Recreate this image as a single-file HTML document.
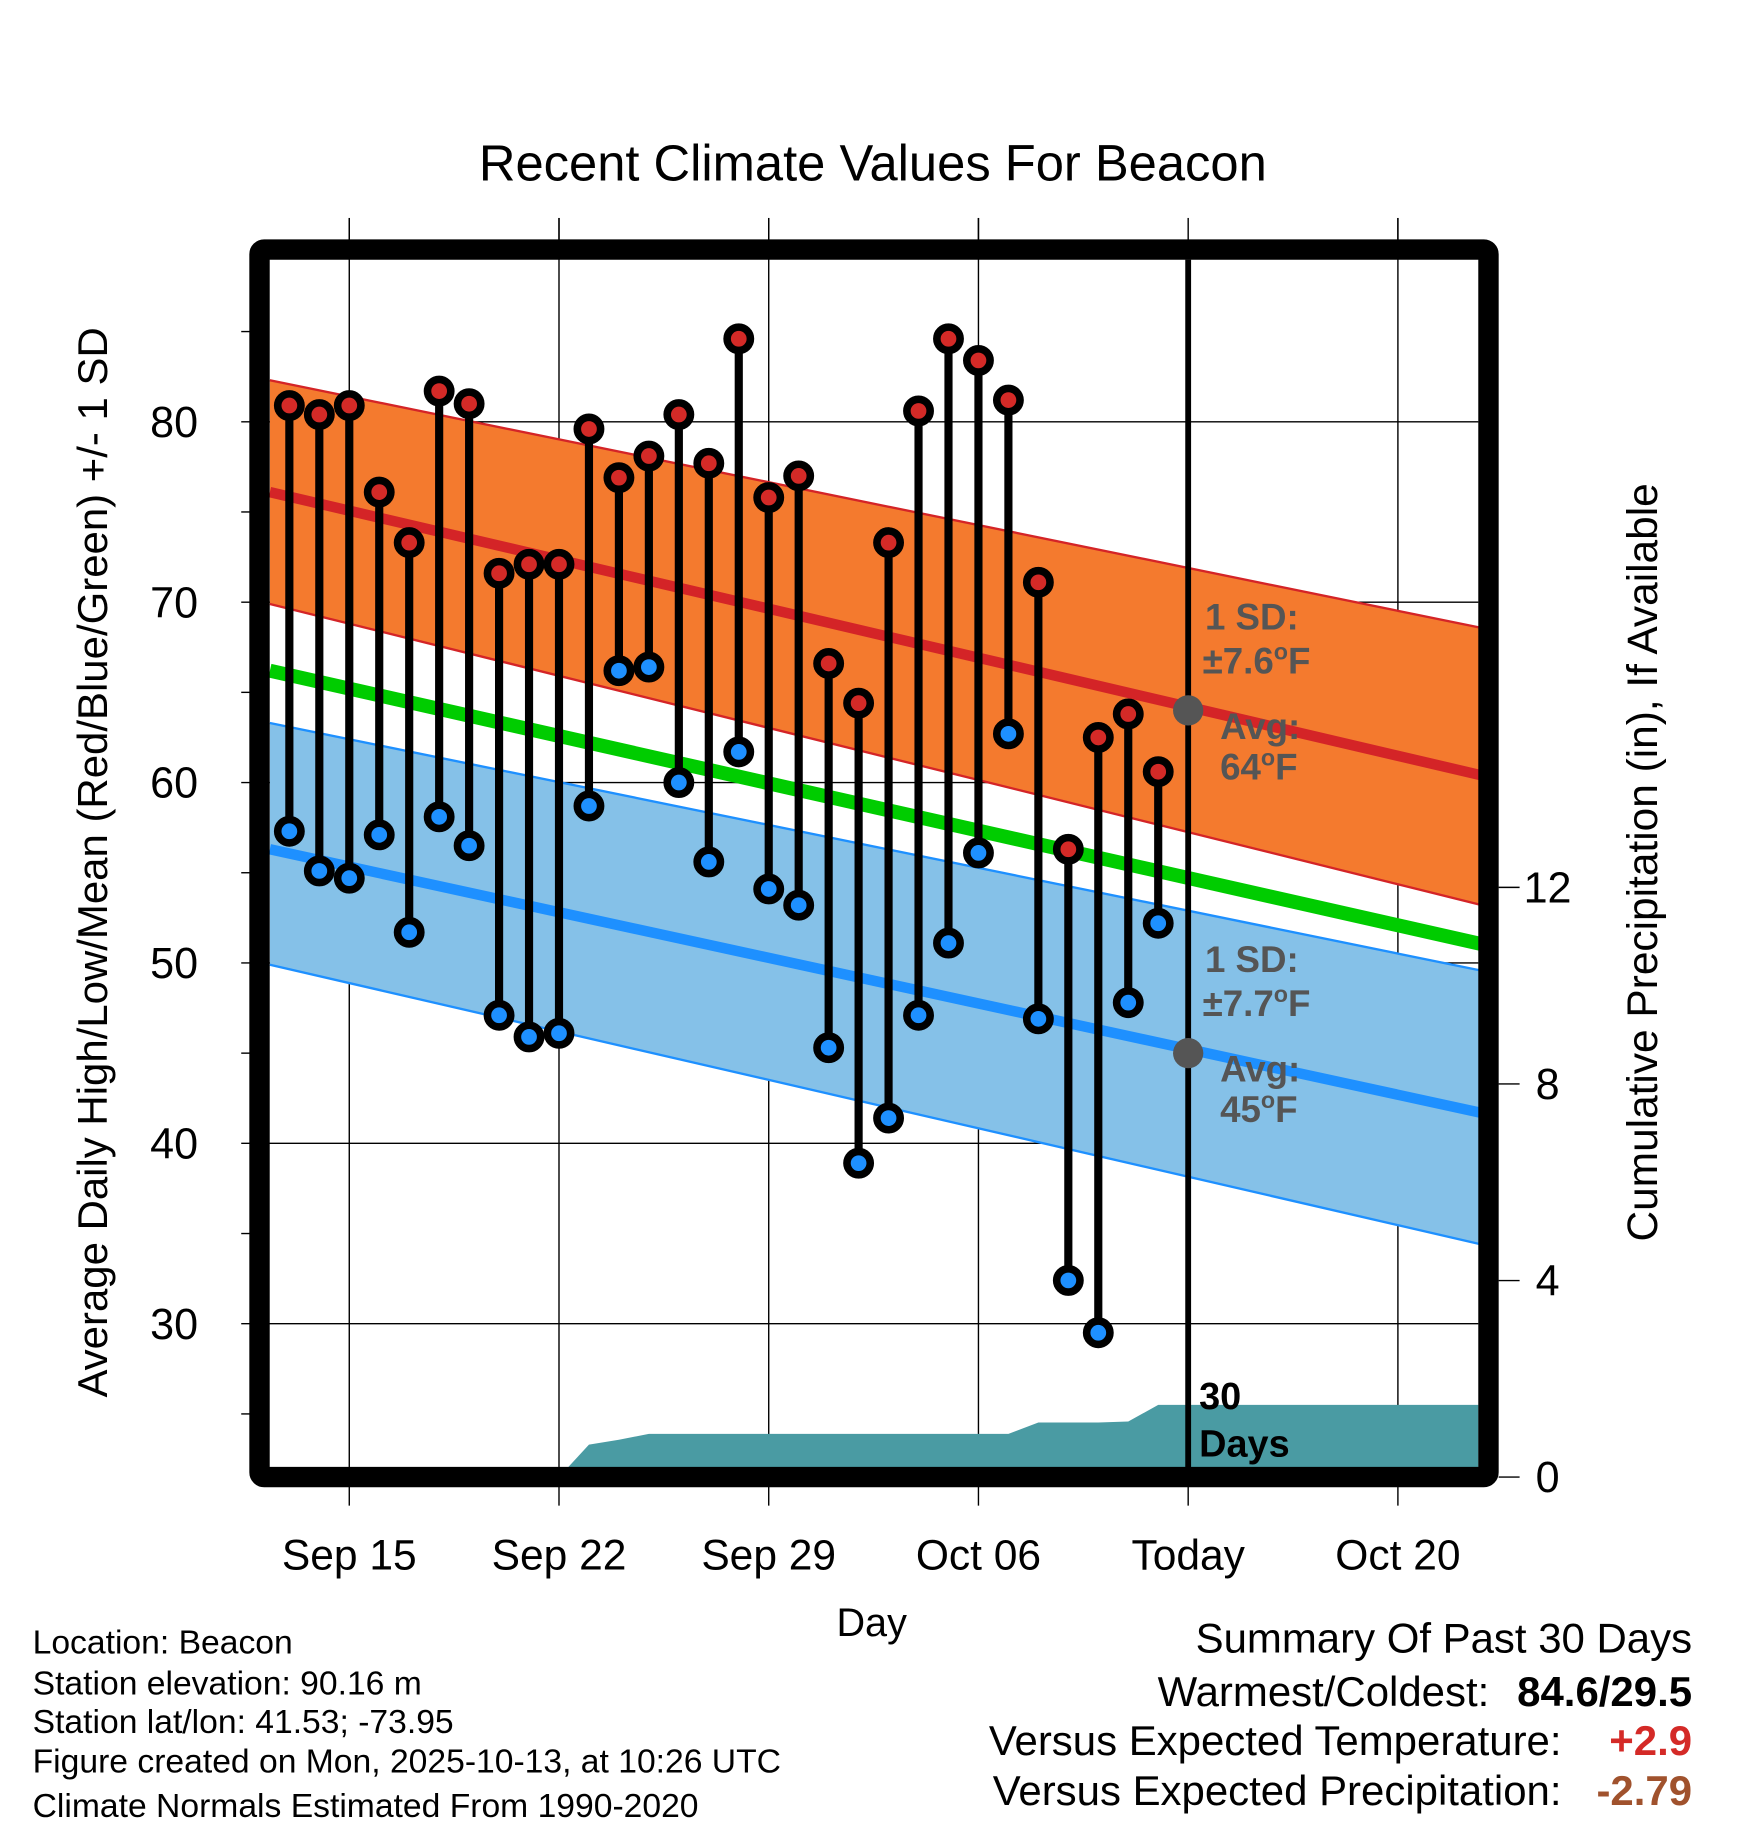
<!DOCTYPE html>
<html><head><meta charset="utf-8"><style>
html,body{margin:0;padding:0;background:#fff;}
svg{display:block;font-family:"Liberation Sans",Arial,sans-serif;}
</style></head><body>
<svg id="chart" width="1748" height="1828" viewBox="0 0 1500 1568.6" xmlns="http://www.w3.org/2000/svg">
<rect x="0" y="0" width="1500" height="1568.6" fill="#fff"/>
<text x="749" y="155" font-size="43.5" text-anchor="middle">Recent Climate Values For Beacon</text>
<g id="grid"></g>
<g id="bands"></g>
<g id="precip"></g>
<g id="marks"></g>
<g id="annot"></g>
<rect x="222.7" y="214.1" width="1054.6" height="1053.4" fill="none" stroke="#000" stroke-width="17.5" rx="4"/>
<g id="axes"></g>
<text x="748" y="1404" font-size="34" text-anchor="middle">Day</text>
<text transform="translate(92,740) rotate(-90)" font-size="36" text-anchor="middle">Average Daily High/Low/Mean (Red/Blue/Green) +/- 1 SD</text>
<text transform="translate(1422,740) rotate(-90)" font-size="36.4" text-anchor="middle">Cumulative Precipitation (in), If Available</text>
<g font-size="28.9">
<text x="28" y="1419">Location: Beacon</text>
<text x="28" y="1454">Station elevation: 90.16 m</text>
<text x="28" y="1487">Station lat/lon: 41.53; -73.95</text>
<text x="28" y="1521">Figure created on Mon, 2025-10-13, at 10:26 UTC</text>
<text x="28" y="1559">Climate Normals Estimated From 1990-2020</text>
</g>
<g font-size="36">
<text x="1452" y="1418" text-anchor="end">Summary Of Past 30 Days</text>
<text x="1278" y="1464" text-anchor="end">Warmest/Coldest:</text>
<text x="1452" y="1464" text-anchor="end" font-weight="bold">84.6/29.5</text>
<text x="1340" y="1506" text-anchor="end">Versus Expected Temperature:</text>
<text x="1452" y="1506" text-anchor="end" font-weight="bold" fill="#d42a27">+2.9</text>
<text x="1340" y="1549" text-anchor="end">Versus Expected Precipitation:</text>
<text x="1452" y="1549" text-anchor="end" font-weight="bold" fill="#a0522d">-2.79</text>
</g>
</svg>
<script>
const highs=[80.9,80.4,80.9,76.1,73.3,81.7,81.0,71.6,72.1,72.1,79.6,76.9,78.1,80.4,77.7,84.6,75.8,77.0,66.6,64.4,73.3,80.6,84.6,83.4,81.2,71.1,56.3,62.5,63.8,60.6];
const lows=[57.3,55.1,54.7,57.1,51.7,58.1,56.5,47.1,45.9,46.1,58.7,66.2,66.4,60.0,55.6,61.7,54.1,53.2,45.3,38.9,41.4,47.1,51.1,56.1,62.7,46.9,32.4,29.5,47.8,52.2];
const precipCum=[0,0,0,0,0,0,0,0,0,0,0.66,0.76,0.88,0.88,0.88,0.88,0.88,0.88,0.88,0.88,0.88,0.88,0.88,0.88,0.88,1.11,1.11,1.11,1.13,1.47];
const normDays=[-0.65,40.3];
const normHigh=[76.1,60.2];
const normHighTop=[82.3,68.4];
const normHighBot=[69.9,53.0];
const normLow=[56.3,41.5];
const normLowTop=[63.3,49.4];
const normLowBot=[49.9,34.2];
const todayHigh=64, todayLow=45;
const yTicks=[30,40,50,60,70,80];
const yMinor=[25,35,45,55,65,75,85];
const pTicks=[0,4,8,12];
const xTickDays=[2,9,16,23,30,37];
const xTickLabels=["Sep 15","Sep 22","Sep 29","Oct 06","Today","Oct 20"];

const NS="http://www.w3.org/2000/svg";
const L=231.4,R=1268.6,T=222.8,B=1258.8;
const x=d=>248.3+d*25.71;
const y=v=>361.9+(80-v)*15.48;
const py=p=>1267.5-p*42.17;
function mk(parent,tag,attrs){const e=document.createElementNS(NS,tag);for(const k in attrs)e.setAttribute(k,attrs[k]);document.getElementById(parent).appendChild(e);return e;}

yTicks.forEach(v=>{
  const g=mk('grid','line',{x1:207,x2:R,y1:y(v),y2:y(v),stroke:'#000','stroke-width':1.2});
  
  
  const t=mk('axes','text',{x:170,y:y(v)+13,'font-size':37,'text-anchor':'end'});
  t.textContent=v;
  
  
});
yMinor.forEach(v=>{
  const g=mk('axes','line',{x1:207,x2:216,y1:y(v),y2:y(v),stroke:'#000','stroke-width':1.2});
  
  
});
xTickDays.forEach((d,i)=>{
  const today=xTickLabels[i]==="Today";
  const g=mk(today?'annot':'grid','line',{x1:x(d),x2:x(d),y1:today?T:187,y2:B,stroke:'#000','stroke-width':today?5:1.2});
  
  
  const g2=mk('axes','line',{x1:x(d),x2:x(d),y1:187,y2:214,stroke:'#000','stroke-width':1.2});
  
  
  const g3=mk('axes','line',{x1:x(d),x2:x(d),y1:1276,y2:1292,stroke:'#000','stroke-width':1.2});
  
  
  const t=mk('axes','text',{x:x(d),y:1347,'font-size':36.5,'text-anchor':'middle'});
  t.textContent=xTickLabels[i];
  
  
});
pTicks.forEach(p=>{
  const g=mk('axes','line',{x1:1286,x2:1304,y1:py(p),y2:py(p),stroke:'#000','stroke-width':1.2});
  
  
  const t=mk('axes','text',{x:1328,y:py(p)+13,'font-size':37,'text-anchor':'middle'});
  t.textContent=p;
  
  
});

function pts(arr){return normDays.map((d,i)=>x(d)+','+y(arr[i]));}
function band(top,bot,fill,edge,name){
  const p=mk('bands','polygon',{points:pts(top).concat(pts(bot).reverse()).join(' '),fill:fill,stroke:'none'});
  
  
  [top,bot].forEach(a=>{
    const l=mk('bands','polyline',{points:pts(a).join(' '),fill:'none',stroke:edge,'stroke-width':2});
    
    
  });
}
band(normHighTop,normHighBot,'#f47a2e','#d42427','high');
band(normLowTop,normLowBot,'#85c1e8','#1e90ff','low');
const hl=mk('bands','polyline',{points:pts(normHigh).join(' '),fill:'none',stroke:'#d42427','stroke-width':9});


const ll=mk('bands','polyline',{points:pts(normLow).join(' '),fill:'none',stroke:'#1e90ff','stroke-width':9});


const mean=normDays.map((d,i)=>x(d)+','+y((normHigh[i]+normLow[i])/2)).join(' ');
const ml=mk('bands','polyline',{points:mean,fill:'none',stroke:'#00cc00','stroke-width':12});



let pp=[x(9)+','+py(0)];
precipCum.forEach((p,d)=>{if(d>=9)pp.push(x(d)+','+py(p));});
pp.push(R+','+py(precipCum[precipCum.length-1]));
pp.push(R+','+py(0));
const pa=mk('precip','polygon',{points:pp.join(' '),fill:'#4a9ba3'});



highs.forEach((h,d)=>{
  const s=mk('marks','line',{x1:x(d),x2:x(d),y1:y(h),y2:y(lows[d]),stroke:'#000','stroke-width':7});
  
  
  const c1=mk('marks','circle',{cx:x(d),cy:y(h),r:10,fill:'#d42a27',stroke:'#000','stroke-width':6.5});
  
  
  const c2=mk('marks','circle',{cx:x(d),cy:y(lows[d]),r:10,fill:'#1e90ff',stroke:'#000','stroke-width':6.5});
  
  
});

const gd1=mk('annot','circle',{cx:x(30),cy:y(todayHigh),r:13,fill:'#555'});


const gd2=mk('annot','circle',{cx:x(30),cy:y(todayLow),r:13,fill:'#555'});


function lab(tx,xx,yy,name){const t=mk('annot','text',{x:xx,y:yy,'font-size':31.5,'font-weight':'bold',fill:'#555'});t.innerHTML=tx;return t;}
lab('1 SD:',1034,540,'high-sd-label');
lab('±7.6<tspan font-size="20" dy="-12">o</tspan><tspan dy="12">F</tspan>',1032,578,'high-sd-value');
lab('Avg:',1047,634,'high-avg-label');
lab('64<tspan font-size="20" dy="-12">o</tspan><tspan dy="12">F</tspan>',1047,669,'high-avg-value');
lab('1 SD:',1034,834,'low-sd-label');
lab('±7.7<tspan font-size="20" dy="-12">o</tspan><tspan dy="12">F</tspan>',1032,872,'low-sd-value');
lab('Avg:',1047,928,'low-avg-label');
lab('45<tspan font-size="20" dy="-12">o</tspan><tspan dy="12">F</tspan>',1047,963,'low-avg-value');
const d1=mk('annot','text',{x:1029,y:1209,'font-size':32.5,'font-weight':'bold',fill:'#000'});d1.textContent='30';


const d2=mk('annot','text',{x:1029,y:1250,'font-size':32.5,'font-weight':'bold',fill:'#000'});d2.textContent='Days';


</script>
</body></html>
